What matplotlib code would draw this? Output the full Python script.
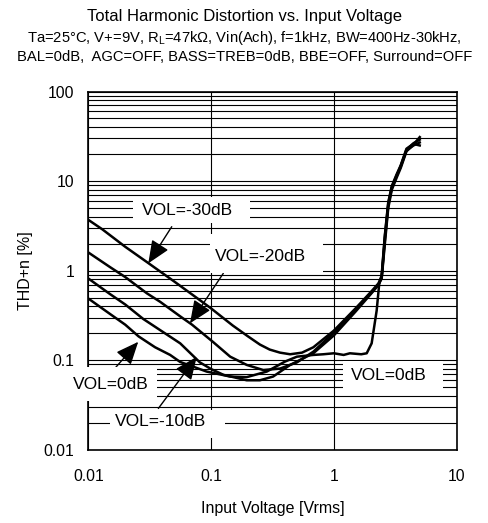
import matplotlib
matplotlib.use("Agg")
import matplotlib.pyplot as plt
from matplotlib.patches import Rectangle
from matplotlib.ticker import LogLocator, NullLocator, FixedLocator

plt.rcParams['font.family'] = ['Liberation Sans', 'DejaVu Sans']

# ---- data ----
x_30 = [0.01, 0.013, 0.02, 0.03, 0.05, 0.081, 0.1, 0.15, 0.2, 0.25, 0.3, 0.364, 0.44, 0.55, 0.68, 1.0, 1.5, 2.0, 2.3, 2.45, 2.6, 2.77, 2.96, 3.25, 3.5, 3.9, 4.45, 5.0]
y_30 = [3.7, 2.9, 1.85, 1.25, 0.76, 0.47, 0.38, 0.245, 0.185, 0.15, 0.132, 0.122, 0.117, 0.122, 0.14, 0.215, 0.38, 0.58, 0.72, 0.86, 2.4, 5.6, 8.6, 11.7, 14.5, 22.0, 25.0, 27.0]

x_20 = [0.01, 0.015, 0.02, 0.03, 0.0385, 0.056, 0.07, 0.104, 0.143, 0.195, 0.266, 0.364, 0.5, 0.68, 1.0, 1.5, 2.0, 2.3, 2.45, 2.6, 2.77, 2.96, 3.25, 3.5, 3.9, 4.45, 5.0]
y_20 = [1.6, 1.1, 0.85, 0.56, 0.45, 0.31, 0.25, 0.16, 0.11, 0.089, 0.078, 0.081, 0.095, 0.125, 0.205, 0.37, 0.56, 0.7, 0.84, 2.2, 5.3, 8.3, 11.5, 14.8, 22.5, 26.5, 29.0]

x_10 = [0.01, 0.015, 0.02, 0.028, 0.04, 0.056, 0.081, 0.1, 0.126, 0.195, 0.25, 0.32, 0.44, 0.68, 1.0, 1.5, 2.0, 2.3, 2.45, 2.6, 2.77, 2.96, 3.25, 3.5, 3.9, 4.45, 5.0]
y_10 = [0.82, 0.55, 0.42, 0.29, 0.21, 0.155, 0.095, 0.08, 0.069, 0.06, 0.06, 0.066, 0.089, 0.12, 0.19, 0.35, 0.55, 0.69, 0.82, 2.0, 5.0, 8.0, 11.0, 14.0, 21.5, 25.5, 31.0]

x_0 = [0.01, 0.015, 0.02, 0.0257, 0.035, 0.0464, 0.056, 0.092, 0.143, 0.195, 0.284, 0.4, 0.5, 0.68, 0.82, 1.0, 1.2, 1.35, 1.67, 1.85, 2.03, 2.23, 2.34, 2.45, 2.6, 2.77, 2.96, 3.25, 3.5, 3.9, 4.45, 5.0]
y_0 = [0.49, 0.33, 0.25, 0.185, 0.14, 0.115, 0.096, 0.075, 0.066, 0.065, 0.075, 0.097, 0.11, 0.115, 0.117, 0.12, 0.115, 0.12, 0.117, 0.12, 0.155, 0.36, 0.72, 0.9, 2.5, 5.8, 8.8, 12.0, 15.0, 23.0, 26.0, 25.0]

x_ticks = [0.01, 0.1, 1, 10]
x_tick_labels = ["0.01", "0.1", "1", "10"]
y_ticks = [0.01, 0.1, 1, 10, 100]
y_tick_labels = ["0.01", "0.1", "1", "10", "100"]

title = "Total Harmonic Distortion vs. Input Voltage"
sub1 = "Ta=25°C, V+=9V, R$_\\mathregular{L}$=47kΩ, Vin(Ach), f=1kHz, BW=400Hz-30kHz,"
sub2 = "BAL=0dB,  AGC=OFF, BASS=TREB=0dB, BBE=OFF, Surround=OFF"

W, H = 489, 523
fig = plt.figure(figsize=(W / 100, H / 100), dpi=100)
ax = fig.add_axes([88.3 / W, 1 - 450 / H, (456.7 - 88.3) / W, (450 - 91.5) / H])

ax.set_xscale('log')
ax.set_yscale('log')
ax.set_xlim(0.01, 10)
ax.set_ylim(0.01, 100)

# grid: horizontal major+minor, vertical major only
ax.xaxis.set_major_locator(FixedLocator(x_ticks))
ax.xaxis.set_minor_locator(NullLocator())
ax.yaxis.set_major_locator(FixedLocator(y_ticks))
ax.yaxis.set_minor_locator(LogLocator(base=10, subs=range(2, 10)))
ax.set_xticklabels(x_tick_labels)
ax.set_yticklabels(y_tick_labels)
ax.yaxis.set_minor_formatter(plt.NullFormatter())
ax.grid(True, which='major', axis='both', color='black', lw=0.8, zorder=1)
ax.grid(True, which='minor', axis='y', color='black', lw=0.8, zorder=1)
ax.set_axisbelow(True)
ax.tick_params(which='both', length=0, labelsize=11.3)
ax.tick_params(axis='x', pad=14)
ax.tick_params(axis='y', pad=10)
for s in ax.spines.values():
    s.set_linewidth(1.2)
    s.set_color('black')

for xs, ys in [(x_30, y_30), (x_20, y_20), (x_10, y_10), (x_0, y_0)]:
    ax.plot(xs, ys, color='black', lw=1.8, zorder=3, solid_joinstyle='round')

# label boxes (white, hiding the grid)
boxes = [
    ((0.0231, 3.4), (0.2075, 6.6)),
    ((0.098, 0.95), (0.815, 2.6)),
    ((0.0071, 0.035), (0.0361, 0.085)),
    ((0.01503, 0.0136), (0.13, 0.0279)),
    ((1.186, 0.042), (7.73, 0.0985)),
]
for (x0, y0), (x1, y1) in boxes:
    ax.add_patch(Rectangle((x0, y0), x1 - x0, y1 - y0, facecolor='white',
                           edgecolor='none', zorder=4, clip_on=False))

labels = [
    ("VOL=-30dB", 0.064, 4.7),
    ("VOL=-20dB", 0.2525, 1.44),
    ("VOL=0dB", 0.0152, 0.0543),
    ("VOL=-10dB", 0.0389, 0.021),
    ("VOL=0dB", 2.82, 0.0671),
]
for t, x, y in labels:
    ax.text(x, y, t, fontsize=12.5, ha='center', va='center', zorder=5, clip_on=False)

arrows = [
    ((0.0478, 3.1), (0.0308, 1.21)),
    ((0.1257, 0.935), (0.0673, 0.259)),
    ((0.016, 0.078), (0.0255, 0.161)),
    ((0.0372, 0.0291), (0.0764, 0.1096)),
]
for (tx, ty), (hx, hy) in arrows:
    ax.annotate("", xy=(hx, hy), xytext=(tx, ty),
                arrowprops=dict(arrowstyle='-|>,head_length=0.7,head_width=0.3',
                                mutation_scale=20, color='black', lw=1.0,
                                shrinkA=0, shrinkB=0),
                zorder=3.5, annotation_clip=False)

ax.set_xlabel("Input Voltage [Vrms]", fontsize=11.5, labelpad=12)
ax.set_ylabel("THD+n [%]", fontsize=11.5, labelpad=8)

fig.text(0.5, 1 - 16 / H, title, fontsize=12, ha='center', va='center')
fig.text(0.5, 1 - 38 / H, sub1, fontsize=10.6, ha='center', va='center')
fig.text(0.5, 1 - 57 / H, sub2, fontsize=10.6, ha='center', va='center')

fig.savefig("out.png", dpi=100)
